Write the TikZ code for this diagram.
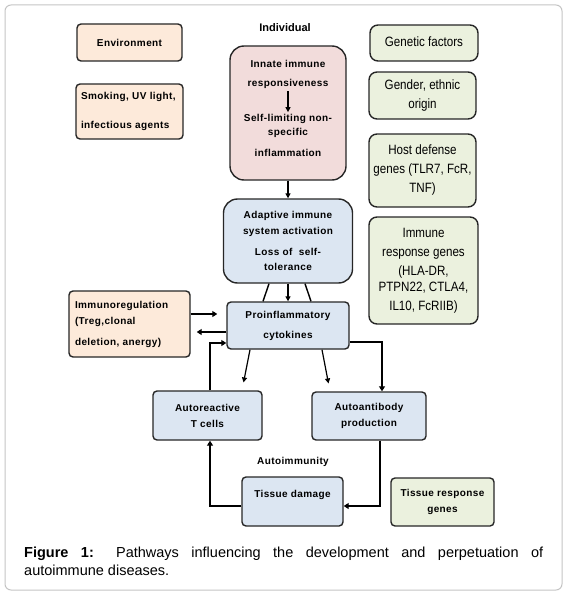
\documentclass[tikz,border=0pt]{standalone}
\usepackage{fontspec}
\setmainfont{Liberation Sans}
\newfontfamily\narrowsans[FakeStretch=0.86]{Liberation Sans}
\newfontfamily\boxsans[LetterSpace=4]{Liberation Sans}
\usepackage{tikz}
\usetikzlibrary{arrows.meta,positioning,calc}
\definecolor{framegray}{HTML}{C4C4C4}
\definecolor{peach}{HTML}{FDEADA}
\definecolor{pink}{HTML}{F2DCDB}
\definecolor{paleblue}{HTML}{DCE6F2}
\definecolor{palegreen}{HTML}{EBF1DE}
\definecolor{edge}{HTML}{262626}

\begin{document}
\begin{tikzpicture}[
  x=1pt,y=-1pt,
  box/.style={draw=edge,line width=1.4pt,rounded corners=4pt,align=center,
    inner sep=0pt,font=\fontsize{10}{16}\selectfont\boxsans\bfseries},
  envbox/.style={box,fill=peach},
  cellbox/.style={box,fill=paleblue},
  genebox/.style={box,fill=palegreen,rounded corners=8pt,
    font=\fontsize{13.5}{19}\selectfont\narrowsans},
  bigbox/.style={box,rounded corners=14pt},
  txt/.style={font=\fontsize{10}{16}\selectfont\boxsans\bfseries,align=center,inner sep=0pt},
  arr/.style={-{Triangle[length=5pt,width=5pt]},line width=1.2pt,draw=black},
  fatarr/.style={-{Triangle[length=5pt,width=6pt]},line width=2.6pt,draw=black},
  link/.style={line width=1.4pt,draw=black}
]
\useasboundingbox (0,0) rectangle (568,594);
\draw[framegray,line width=1pt,rounded corners=6pt] (5,5) rectangle (562,590);

% environment side
\node[envbox,minimum width=105pt,minimum height=37pt] (env) at (129.5,42.5)
  {\raisebox{-4pt}{Environment}};
\node[envbox,minimum width=107pt,minimum height=55pt,align=left,text width=97pt]
  (smoke) at (129.5,111.5) {Smoking, UV light,\\[13pt]infectious agents};

% individual
\node[txt,font=\fontsize{11}{13}\selectfont\bfseries] (indiv) at (285,28) {Individual};
\node[bigbox,fill=pink,minimum width=116pt,minimum height=134pt] (innatebox) at (288,113) {};
\node[txt] (innate) at (288,74) {Innate immune\\[3pt]responsiveness};
\node[txt] (selflim) at (288,135.5) {Self-limiting non-\\[-2pt]specific\\[5pt]inflammation};
\draw[arr,line width=1.6pt,shorten <=3pt,shorten >=2pt] (innate) -- (selflim);

\node[bigbox,fill=paleblue,minimum width=129pt,minimum height=84pt] (adaptive) at (288,241)
  {Adaptive immune\\system activation\\[5pt]Loss of\ \ self-\\[-1pt]tolerance};
\node[cellbox,minimum width=122pt,minimum height=47pt] (proinfl) at (288,325.5)
  {Proinflammatory\\[4pt]cytokines};
\node[envbox,minimum width=121pt,minimum height=66pt,align=left,text width=109pt]
  (immreg) at (129.5,324) {Immunoregulation\\(Treg,clonal\\[5pt]deletion, anergy)};

% genetic side
\node[genebox,minimum width=108pt,minimum height=36pt] (genetic) at (424,43)
  {\raisebox{3pt}{Genetic factors}};
\node[genebox,minimum width=107pt,minimum height=47pt] (gender) at (422.5,95.5)
  {Gender,\ ethnic\\origin};
\node[genebox,minimum width=107pt,minimum height=73pt] (host) at (422.5,170.5)
  {Host defense\\genes (TLR7, FcR,\\TNF)};
\node[genebox,minimum width=109pt,minimum height=107pt] (immresp) at (423.5,270.5)
  {Immune\\response genes\\(HLA-DR,\\[-3pt]PTPN22, CTLA4,\\IL10, FcRIIB)};

% autoimmunity loop
\node[cellbox,minimum width=109pt,minimum height=49pt] (autoT) at (207.5,415.5)
  {Autoreactive\\T cells};
\node[cellbox,minimum width=114pt,minimum height=48pt] (autoab) at (369,416)
  {Autoantibody\\production};
\node[txt] (autoimm) at (293,462) {Autoimmunity};
\node[cellbox,minimum width=101pt,minimum height=49pt] (tissue) at (292.5,501.5)
  {Tissue damage\\\mbox{}};
\node[envbox,fill=palegreen,minimum width=103pt,minimum height=48pt] (tresp) at (442.5,502)
  {Tissue response\\genes};

% connectors
\draw[arr] (innatebox) -- (adaptive);
\draw[arr,line width=1.8pt] (adaptive) -- (proinfl);
\draw[link] ([xshift=-19pt]adaptive.south) -- ([xshift=-25pt]proinfl.north);
\draw[link] ([xshift=17pt]adaptive.south) -- ([xshift=23pt]proinfl.north);
\draw[fatarr,shorten >=9pt] ([yshift=10pt]immreg.east) -- ([yshift=11.5pt]proinfl.west);
\draw[fatarr,shorten >=6pt] ([yshift=-6.5pt]proinfl.west) -- ([yshift=-8pt]immreg.east);
\draw[fatarr] ([xshift=2.5pt]autoT.north) |- ([yshift=-17.5pt]proinfl.west);
\draw[fatarr] ([yshift=-16.5pt]proinfl.east) -| ([xshift=13pt]autoab.north);
\draw[arr,shorten >=8pt] ([xshift=-38pt]proinfl.south) -- ([xshift=34.5pt]autoT.north);
\draw[arr,shorten >=8pt] ([xshift=34pt]proinfl.south) -- ([xshift=-39pt]autoab.north);
\draw[fatarr] ([xshift=11pt]autoab.south) |- ([yshift=-4.5pt]tissue.east);
\draw[fatarr] ([yshift=-4.5pt]tissue.west) -| ([xshift=2.5pt]autoT.south);

% caption
\node[anchor=north west,inner sep=0pt,text width=519pt,align=justify,
  font=\fontsize{14.5}{18}\selectfont] (caption) at (24,547)
  {\textbf{Figure 1:} Pathways influencing the development and perpetuation of\linebreak
   autoimmune diseases.};
\end{tikzpicture}
\end{document}
